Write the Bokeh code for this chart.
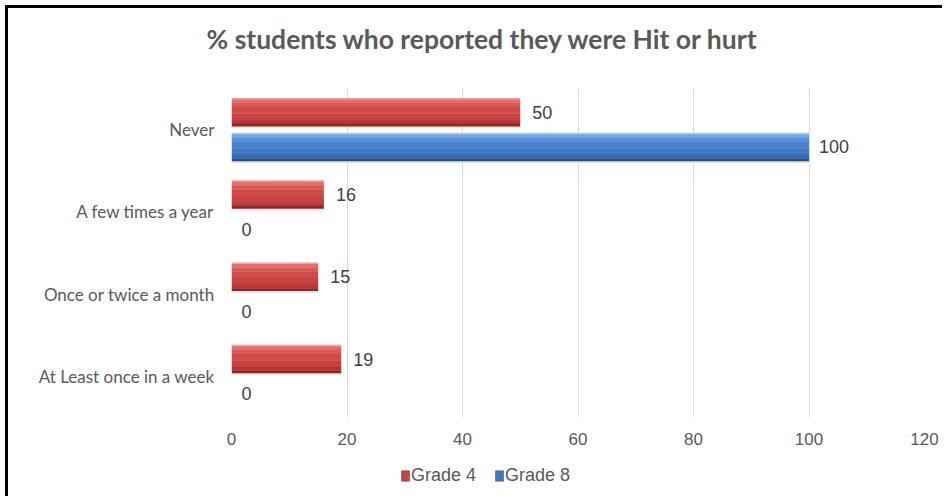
from bokeh.plotting import figure
from bokeh.layouts import column
from bokeh.models import FactorRange, Range1d, Legend, LegendItem, ColumnDataSource, FixedTicker, Title
from bokeh.transform import dodge
from bokeh.core.properties import value
from bokeh.embed import file_html
from bokeh.resources import INLINE

# ---- data ----
categories = ["Never", "A few times a year", "Once or twice a month", "At Least once in a week"]
grade4 = [50, 16, 15, 19]
grade8 = [100, 0, 0, 0]
series_names = ["Grade 4", "Grade 8"]
x_ticks = [0, 20, 40, 60, 80, 100, 120]
title_text = "% students who reported they were Hit or hurt"

src = ColumnDataSource(dict(
    cat=categories, g4=grade4, g8=grade8,
    g4_lbl=[str(v) for v in grade4], g8_lbl=[str(v) for v in grade8],
))

p = figure(width=934, height=447,
           y_range=FactorRange(factors=list(reversed(categories))),
           x_range=Range1d(0, 120),
           output_backend="svg", toolbar_location=None,
           min_border_left=223, min_border_right=18,
           min_border_top=80, min_border_bottom=38)

H = 0.345
OFF = 0.211

red_strips = [(0.00, 0.06, "#f4a09c"), (0.06, 0.18, "#e66e6a"), (0.18, 0.32, "#da5955"),
              (0.32, 0.55, "#cf4b47"), (0.55, 0.78, "#c6423f"), (0.78, 0.91, "#b43835"),
              (0.91, 1.00, "#8c2725")]
blue_strips = [(0.00, 0.06, "#a8cdf5"), (0.06, 0.18, "#72a7e6"), (0.18, 0.32, "#5891d8"),
               (0.32, 0.55, "#4a83cd"), (0.55, 0.78, "#3f78c4"), (0.78, 0.91, "#3568ad"),
               (0.91, 1.00, "#264b80")]

for col, off, strips in (("g4", OFF, red_strips), ("g8", -OFF, blue_strips)):
    p.hbar(y=dodge("cat", off - H / 2 - 0.012, range=p.y_range), height=0.02, left=0, right=col,
           fill_color="#d0d0d0", fill_alpha=0.6, line_color=None, source=src)
    for a, b, c in strips:
        center = off + H * (0.5 - (a + b) / 2)
        p.hbar(y=dodge("cat", center, range=p.y_range), height=H * (b - a) + 0.004,
               left=0, right=col, fill_color=c, line_color=None, source=src)

lbl_font = value("Liberation Sans")
p.text(x="g4", y=dodge("cat", OFF, range=p.y_range), text="g4_lbl", x_offset=12,
       text_baseline="middle", text_align="left", text_font=lbl_font, text_font_size="18px",
       text_color="#404040", source=src)
p.text(x="g8", y=dodge("cat", -OFF, range=p.y_range), text="g8_lbl", x_offset=10,
       text_baseline="middle", text_align="left", text_font=lbl_font, text_font_size="18px",
       text_color="#404040", source=src)

p.xaxis.ticker = FixedTicker(ticks=x_ticks)
p.xaxis.axis_line_color = None
p.xaxis.major_tick_line_color = None
p.xaxis.minor_tick_line_color = None
p.xaxis.major_label_text_font = "Liberation Sans"
p.xaxis.major_label_text_font_size = "17px"
p.xaxis.major_label_text_color = "#595959"
p.xaxis.major_label_standoff = 9

p.yaxis.axis_line_color = None
p.yaxis.major_tick_line_color = None
p.yaxis.minor_tick_line_color = None
p.yaxis.major_label_text_font = "Lato"
p.yaxis.major_label_text_font_size = "17px"
p.yaxis.major_label_text_color = "#595959"
p.yaxis.major_label_standoff = 11

p.ygrid.grid_line_color = None
p.xgrid.grid_line_color = "#d9d9d9"
p.xgrid.grid_line_width = 1
p.outline_line_color = None
p.y_range.range_padding = 0
p.y_range.factor_padding = 0

# title: a blank spacer title next to the frame, then the real title above it
spacer = Title(text=" ", text_font_size="14px", standoff=16, text_color="#ffffff")
main_title = Title(text=title_text, align="left", offset=-25, text_font="Lato",
                   text_font_style="bold", text_font_size="26.5px", text_color="#595959",
                   standoff=0)
p.add_layout(spacer, "above")
p.add_layout(main_title, "above")

# legend strip
p2 = figure(width=934, height=41, x_range=Range1d(0, 1), y_range=Range1d(0, 1),
            output_backend="svg", toolbar_location=None, min_border=0)
p2.axis.visible = False
p2.grid.grid_line_color = None
p2.outline_line_color = None
r4 = p2.hbar(y=-10, right="g4", height=0.5, fill_color="#c8423f", line_color="#8c2725",
             line_width=0.5, source=src)
r8 = p2.hbar(y=-10, right="g8", height=0.5, fill_color="#3f78c4", line_color="#264b80",
             line_width=0.5, source=src)
legend = Legend(items=[LegendItem(label=series_names[0], renderers=[r4], index=0),
                       LegendItem(label=series_names[1], renderers=[r8], index=0)],
                orientation="horizontal", location=(169, 10),
                glyph_width=10, glyph_height=13, label_standoff=1, spacing=18,
                padding=0, margin=0, border_line_color=None, background_fill_alpha=0,
                label_text_font="Liberation Sans", label_text_font_size="18px",
                label_text_color="#595959")
p2.add_layout(legend, "center")

lay = column(p, p2, spacing=0)
lay.styles = {"border-top": "3px solid black", "border-left": "3px solid black",
              "margin-top": "5px", "margin-left": "5px"}

open("out.html", "w").write(file_html(lay, INLINE))
